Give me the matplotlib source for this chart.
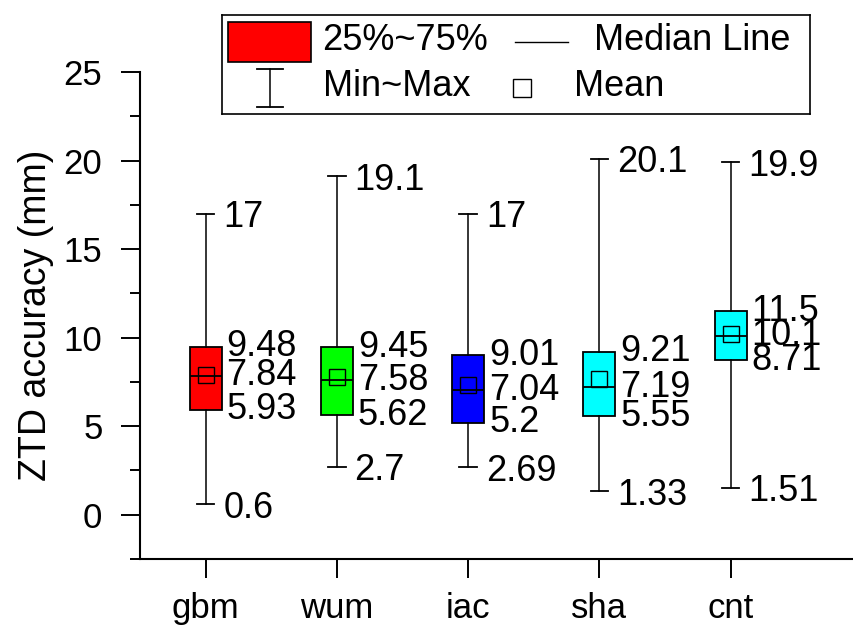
import matplotlib
matplotlib.use("Agg")
import matplotlib.pyplot as plt
from matplotlib.patches import Rectangle
from matplotlib.ticker import MultipleLocator

# --- data ---
centers = ["gbm", "wum", "iac", "sha", "cnt"]
mins = [0.6, 2.7, 2.69, 1.33, 1.51]
q1s = [5.93, 5.62, 5.2, 5.55, 8.71]
medians = [7.84, 7.58, 7.04, 7.19, 10.1]
q3s = [9.48, 9.45, 9.01, 9.21, 11.5]
maxs = [17, 19.1, 17, 20.1, 19.9]
means = [7.9, 7.8, 7.3, 7.65, 10.2]
box_colors = ["#FF0000", "#00FF00", "#0000FF", "#00FFFF", "#00FFFF"]

plt.rcParams["font.family"] = ["Liberation Sans", "DejaVu Sans"]
FS_TICK = 25
FS_TXT = 26

fig = plt.figure(figsize=(8.54, 6.3), dpi=100)
ax = fig.add_axes([140 / 854, (630 - 559) / 630, 714 / 854, (559 - 72) / 630])

stats = []
for i in range(len(centers)):
    stats.append(dict(label=centers[i], whislo=mins[i], q1=q1s[i], med=medians[i],
                      q3=q3s[i], whishi=maxs[i], mean=means[i], fliers=[]))

pos = list(range(1, len(centers) + 1))
bp = ax.bxp(stats, positions=pos, widths=0.245, capwidths=0.135,
            patch_artist=True, showmeans=True, showfliers=False,
            boxprops=dict(edgecolor="black", linewidth=1.3),
            medianprops=dict(color="black", linewidth=1.3),
            whiskerprops=dict(color="black", linewidth=1.1),
            capprops=dict(color="black", linewidth=1.3),
            meanprops=dict(marker="s", markerfacecolor="none",
                           markeredgecolor="black", markersize=12,
                           markeredgewidth=1.0))
for patch, c in zip(bp["boxes"], box_colors):
    patch.set_facecolor(c)

# value annotations
for i, x in enumerate(pos):
    for v in (q3s[i], medians[i], q1s[i]):
        ax.text(x + 0.16, v, f"{v:g}", fontsize=FS_TXT, ha="left", va="center")
    for v in (maxs[i], mins[i]):
        ax.text(x + 0.135, v, f"{v:g}", fontsize=FS_TXT, ha="left", va="center_baseline")

ax.set_xlim(0.5, 5.94)
ax.set_ylim(-2.5, 25)
ax.set_xticks(pos)
ax.set_xticklabels(centers)
ax.yaxis.set_major_locator(MultipleLocator(5))
ax.yaxis.set_minor_locator(MultipleLocator(2.5))
ax.set_ylabel("ZTD accuracy (mm)", fontsize=27, labelpad=7)
ax.tick_params(axis="both", which="major", direction="out", length=14,
               width=1.4, labelsize=FS_TICK)
ax.tick_params(axis="x", which="major", pad=10)
ax.tick_params(axis="y", which="major", pad=13)
ax.tick_params(axis="y", which="minor", direction="out", length=7, width=1.4)
for s in ("top", "right"):
    ax.spines[s].set_visible(False)
for s in ("left", "bottom"):
    ax.spines[s].set_linewidth(1.5)

# legend drawn in pixel-like coordinates
lx0, lx1, ly0, ly1 = 222, 810, 15, 114
lax = fig.add_axes([lx0 / 854, 1 - ly1 / 630, (lx1 - lx0) / 854, (ly1 - ly0) / 630], zorder=5)
lax.set_xlim(lx0, lx1)
lax.set_ylim(ly1, ly0)
lax.set_xticks([])
lax.set_yticks([])
for s in lax.spines.values():
    s.set_linewidth(1.2)
lax.add_patch(Rectangle((228, 22), 83, 40, facecolor="#FF0000", edgecolor="black", linewidth=1.2))
lax.plot([270, 270], [69, 107], color="black", lw=1.1)
lax.plot([257, 283], [69, 69], color="black", lw=1.3)
lax.plot([257, 283], [107, 107], color="black", lw=1.3)
lax.text(322, 41, "25%~75%", fontsize=FS_TXT, ha="left", va="center")
lax.plot([515, 568], [42, 42], color="black", lw=1.0)
lax.text(594, 41, "Median Line", fontsize=FS_TXT, ha="left", va="center")
lax.text(323, 87, "Min~Max", fontsize=FS_TXT, ha="left", va="center")
lax.plot([522], [88], marker="s", markerfacecolor="none", markeredgecolor="black",
         markersize=13, markeredgewidth=1.0)
lax.text(574, 87, "Mean", fontsize=FS_TXT, ha="left", va="center")

fig.savefig("out.png", dpi=100)
